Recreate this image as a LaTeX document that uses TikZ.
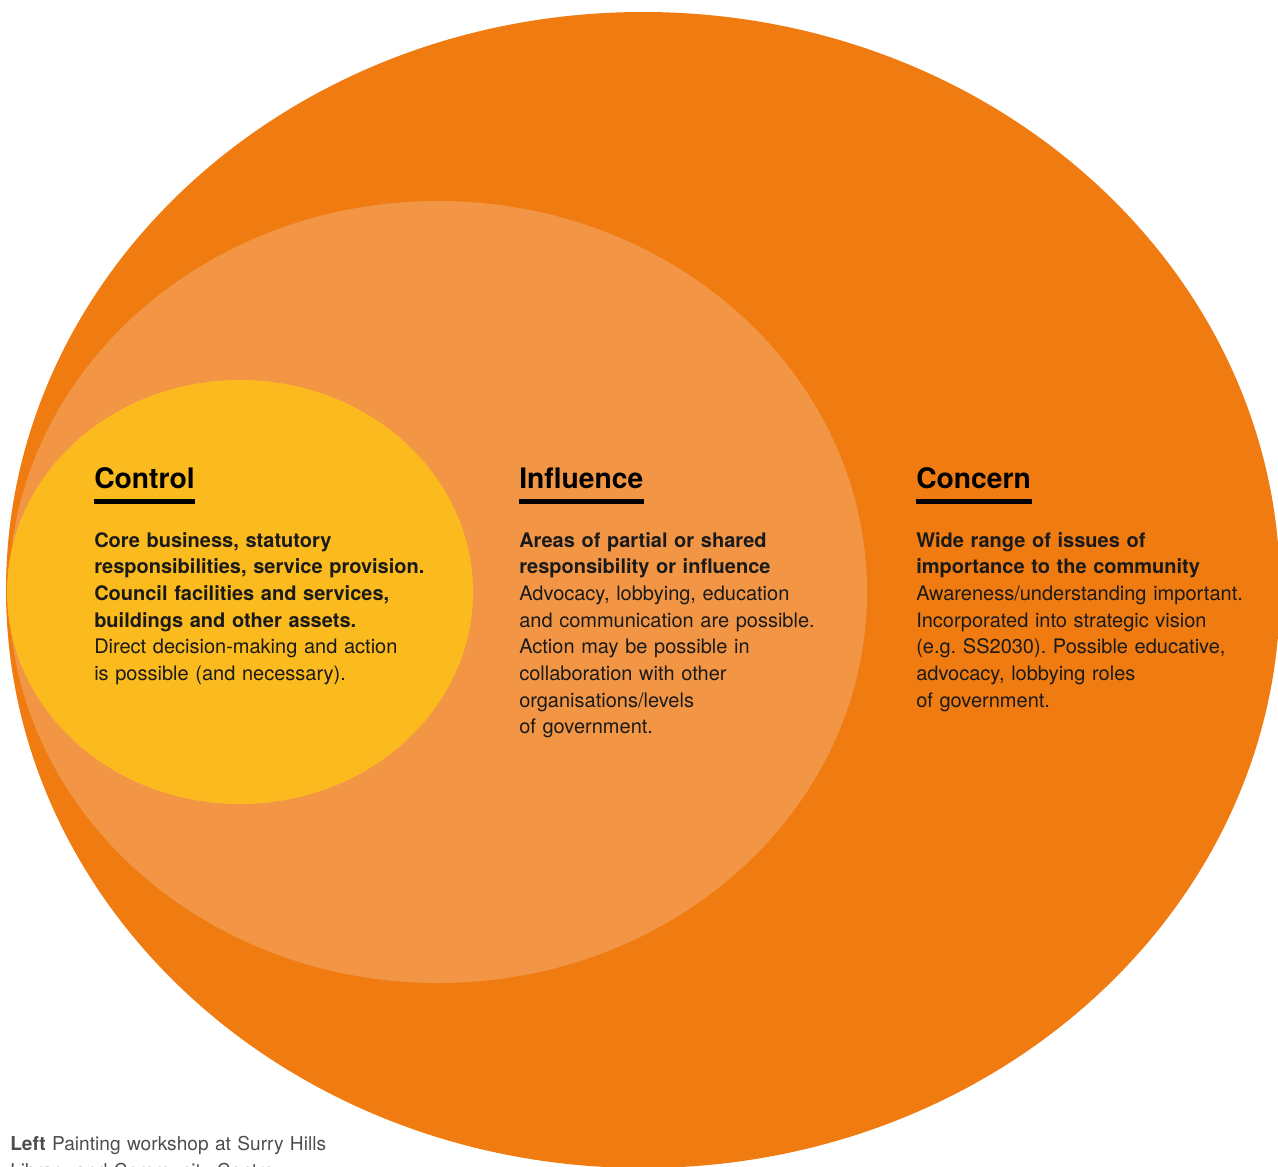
\documentclass[tikz,border=0pt]{standalone}
\usepackage{fontspec}
\setmainfont{TeX Gyre Heros}
\frenchspacing
\definecolor{concernorange}{HTML}{EF7B11}
\definecolor{influenceorange}{HTML}{F29645}
\definecolor{controlyellow}{HTML}{FBBA1E}
\definecolor{bodyink}{HTML}{1A1A1A}
\definecolor{captionink}{HTML}{4D4D4D}
\begin{document}
\begin{tikzpicture}[x=0.75pt,y=-0.75pt,
  heading/.style={anchor=base west,inner sep=0pt,font=\fontsize{21.2}{24}\selectfont\bfseries,text=black},
  rule/.style={line width=3.6pt,black},
  body/.style={anchor=base west,inner sep=0pt,text width=420pt,align=left,
    font=\fontsize{15}{20}\selectfont\frenchspacing,text=bodyink},
  caption/.style={anchor=base west,inner sep=0pt,text width=400pt,align=left,
    font=\fontsize{14.35}{20.5}\selectfont\frenchspacing,text=captionink}]
  \useasboundingbox (0,0) rectangle (1278,1167);
  % nested circles of concern, influence and control
  \fill[concernorange] (643,590) ellipse [x radius=637, y radius=578];
  \fill[influenceorange] (438,592) ellipse [x radius=429, y radius=391];
  \fill[controlyellow] (240,592) ellipse [x radius=233, y radius=212];

  % Control
  \node[heading] (ctrlhead) at (94,488) {Control};
  \draw[rule] (94,501.5) -- (194.5,501.5);
  \node[body] (ctrlbody) at (94,547) {{\bfseries Core business, statutory\\
    responsibilities, service provision.\\
    Council facilities and services,\\
    buildings and other assets.}\\
    Direct decision-making and action\\
    is possible (and necessary).};

  % Influence
  \node[heading] (inflhead) at (519,488) {Influence};
  \draw[rule] (519,501.5) -- (644,501.5);
  \node[body] (inflbody) at (519,547) {{\bfseries Areas of partial or shared\\
    responsibility or influence}\\
    Advocacy, lobbying, education\\
    and communication are possible.\\
    Action may be possible in\\
    collaboration with other\\
    organisations/levels\\
    of government.};

  % Concern
  \node[heading] (conchead) at (916,488) {Concern};
  \draw[rule] (916,501.5) -- (1032,501.5);
  \node[body] (concbody) at (916,547) {{\bfseries Wide range of issues of\\
    importance to the community}\\
    Awareness/understanding important.\\
    Incorporated into strategic vision\\
    (e.g. SS2030). Possible educative,\\
    advocacy, lobbying roles\\
    of government.};

  % photo caption
  \node[caption] (photocap) at (10,1150) {{\bfseries Left} Painting workshop at Surry Hills\\
    Library and Community Centre};
\end{tikzpicture}
\end{document}
